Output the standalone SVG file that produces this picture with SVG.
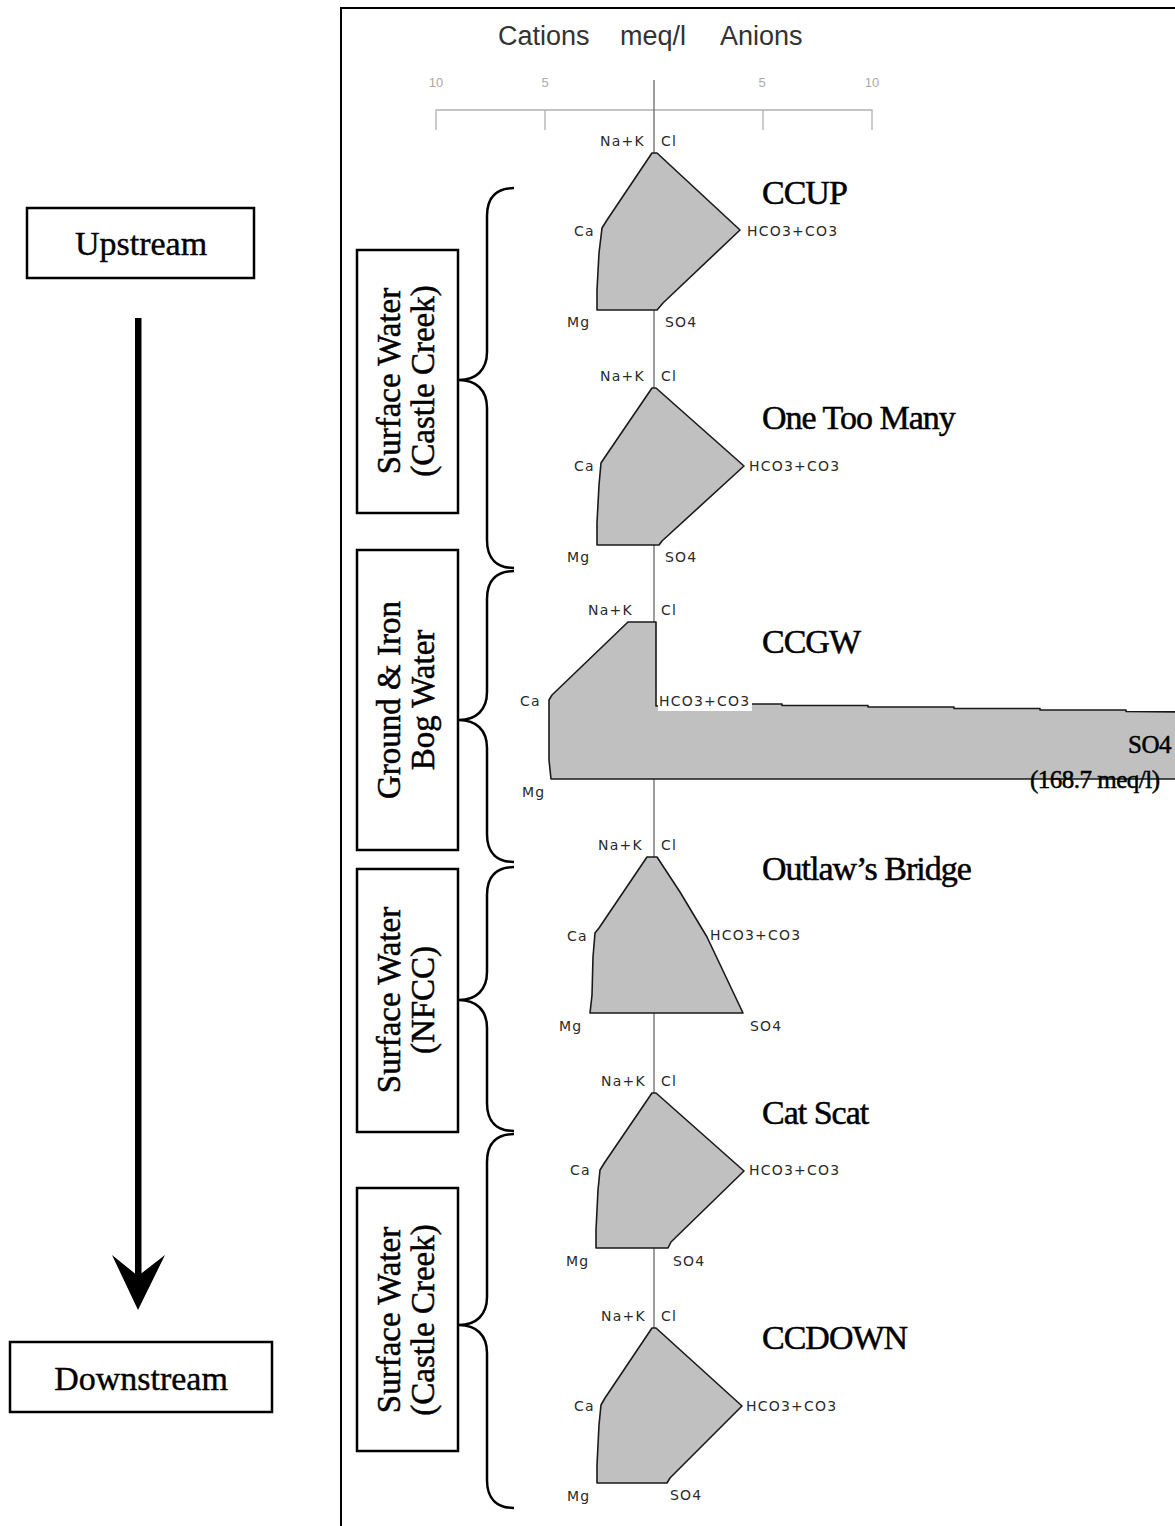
<svg xmlns="http://www.w3.org/2000/svg" width="1175" height="1526" viewBox="0 0 1175 1526">
<style>
.frame{fill:none;stroke:#000;stroke-width:2}
.box{fill:#fff;stroke:#000;stroke-width:2.5}
.brace{fill:none;stroke:#000;stroke-width:2.5}
.axis{fill:none;stroke:#6a6a6a;stroke-width:1.3}
.scale{fill:none;stroke:#b0b0b0;stroke-width:1.3}
.poly{fill:#c0c0c0;stroke:#1a1a1a;stroke-width:1.6;stroke-linejoin:round}
.lab{font-family:"DejaVu Sans",sans-serif;font-size:14px;letter-spacing:1.2px;fill:#2a2a2a}
.num{font-family:"Liberation Sans",sans-serif;font-size:13px;fill:#aaa;text-anchor:middle}
.title{font-family:"Liberation Sans",sans-serif;font-size:27px;fill:#333}
.name{font-family:"Liberation Serif",serif;font-size:34px;letter-spacing:-1px;fill:#000;stroke:#000;stroke-width:0.5}
.big{font-family:"Liberation Serif",serif;font-size:34px;fill:#000;text-anchor:middle;stroke:#000;stroke-width:0.4}
.rot{font-family:"Liberation Serif",serif;font-size:33px;fill:#000;text-anchor:middle;stroke:#000;stroke-width:0.5}
.so4{font-family:"Liberation Serif",serif;font-size:25px;letter-spacing:-0.5px;fill:#000;stroke:#000;stroke-width:0.5}
</style>
<rect width="1175" height="1526" fill="#fff"/>

<g id="frame">
<path class="frame" d="M341 1526 V8 H1176"/>
</g>

<g id="upstream">
<rect class="box" x="27" y="208" width="227" height="70"/>
<text class="big" x="141" y="255">Upstream</text>
</g>
<g id="downstream">
<rect class="box" x="10" y="1342" width="262" height="70"/>
<text class="big" x="141" y="1390">Downstream</text>
</g>

<g id="connectors">
<rect x="135" y="318" width="6.5" height="960" fill="#000"/>
<polygon points="138,1310 112,1255 138,1276 165,1255" fill="#000"/>
<path class="brace" d="M 514 188 C 498 188 487 196 487 216 L 487 352 C 487 370 476 380 459 380 C 476 380 487 390 487 408 L 487 540 C 487 560 498 568 514 568"/>
<path class="brace" d="M 514 571 C 498 571 487 579 487 599 L 487 692 C 487 710 476 720 459 720 C 476 720 487 730 487 748 L 487 834 C 487 854 498 862 514 862"/>
<path class="brace" d="M 514 867 C 498 867 487 875 487 895 L 487 972 C 487 990 476 1000 459 1000 C 476 1000 487 1010 487 1028 L 487 1103 C 487 1123 498 1131 514 1131"/>
<path class="brace" d="M 514 1134 C 498 1134 487 1142 487 1162 L 487 1297 C 487 1315 476 1325 459 1325 C 476 1325 487 1335 487 1353 L 487 1480 C 487 1500 498 1508 514 1508"/>
</g>

<g id="group-sw-cc-1">
<rect class="box" x="357" y="250" width="101" height="263"/>
<text class="rot" transform="translate(400,381) rotate(-90)">Surface Water</text>
<text class="rot" transform="translate(434,381) rotate(-90)">(Castle Creek)</text>
</g>
<g id="group-ground">
<rect class="box" x="357" y="550" width="101" height="300"/>
<text class="rot" transform="translate(400,700) rotate(-90)">Ground &amp; Iron</text>
<text class="rot" transform="translate(434,700) rotate(-90)">Bog Water</text>
</g>
<g id="group-nfcc">
<rect class="box" x="357" y="869" width="101" height="263"/>
<text class="rot" transform="translate(400,1000) rotate(-90)">Surface Water</text>
<text class="rot" transform="translate(434,1000) rotate(-90)">(NFCC)</text>
</g>
<g id="group-sw-cc-2">
<rect class="box" x="357" y="1188" width="101" height="263"/>
<text class="rot" transform="translate(400,1320) rotate(-90)">Surface Water</text>
<text class="rot" transform="translate(434,1320) rotate(-90)">(Castle Creek)</text>
</g>

<g id="axis">
<text class="title" x="498" y="45">Cations</text>
<text class="title" x="620" y="45">meq/l</text>
<text class="title" x="720" y="45">Anions</text>
<text class="num" x="436" y="87">10</text>
<text class="num" x="545" y="87">5</text>
<text class="num" x="762" y="87">5</text>
<text class="num" x="872" y="87">10</text>
<path class="scale" d="M436 130 V110 H872 V130 M545 110 V130 M763 110 V130"/>
<path class="axis" d="M654 80 V1328"/>
</g>

<g id="ccup">
<polygon class="poly" points="652,153 657,153 740,230 663,303 657,310 597,310 597,290 599,253 602,228 607,220"/>
<text class="lab" x="600" y="146">Na+K</text>
<text class="lab" x="661" y="146">Cl</text>
<text class="lab" x="574" y="236">Ca</text>
<text class="lab" x="747" y="236">HCO3+CO3</text>
<text class="lab" x="567" y="327">Mg</text>
<text class="lab" x="665" y="327">SO4</text>
<text class="name" x="762" y="204">CCUP</text>
</g>

<g id="one-too-many">
<polygon class="poly" points="652,388 656,388 744,466 662,541 659,545 597,545 597,523 599,485 601,463 605,457"/>
<text class="lab" x="600" y="381">Na+K</text>
<text class="lab" x="661" y="381">Cl</text>
<text class="lab" x="574" y="471">Ca</text>
<text class="lab" x="749" y="471">HCO3+CO3</text>
<text class="lab" x="567" y="562">Mg</text>
<text class="lab" x="665" y="562">SO4</text>
<text class="name" x="762" y="429">One Too Many</text>
</g>

<g id="ccgw">
<polygon class="poly" points="628,622 656,622 656,706 752,704 782,704 782,705.5 868,705.5 868,707 954,707 954,708.5 1040,708.5 1040,710 1126,710 1126,711.5 1190,712 1190,779 551,779 549,760 549,700 552,695"/>
<rect x="658" y="693" width="94" height="18" fill="#fff"/>
<text class="lab" x="588" y="615">Na+K</text>
<text class="lab" x="661" y="615">Cl</text>
<text class="lab" x="520" y="706">Ca</text>
<text class="lab" x="659" y="706">HCO3+CO3</text>
<text class="lab" x="522" y="797">Mg</text>
<text class="name" x="762" y="653">CCGW</text>
<text class="so4" x="1128" y="753">SO4</text>
<text class="so4" x="1030" y="788">(168.7 meq/l)</text>
</g>

<g id="outlaws-bridge">
<polygon class="poly" points="647,857 657,857 680,892 707,937 743,1013 590,1013 592,995 593,957 595,933 599,928"/>
<text class="lab" x="598" y="850">Na+K</text>
<text class="lab" x="661" y="850">Cl</text>
<text class="lab" x="567" y="941">Ca</text>
<text class="lab" x="710" y="940">HCO3+CO3</text>
<text class="lab" x="559" y="1031">Mg</text>
<text class="lab" x="750" y="1031">SO4</text>
<text class="name" x="762" y="880">Outlaw’s Bridge</text>
</g>

<g id="cat-scat">
<polygon class="poly" points="652,1093 656,1093 744,1171 671,1242 668,1248 596,1248 596,1230 598,1190 600,1170 605,1162"/>
<text class="lab" x="601" y="1086">Na+K</text>
<text class="lab" x="661" y="1086">Cl</text>
<text class="lab" x="570" y="1175">Ca</text>
<text class="lab" x="749" y="1175">HCO3+CO3</text>
<text class="lab" x="566" y="1266">Mg</text>
<text class="lab" x="673" y="1266">SO4</text>
<text class="name" x="762" y="1124">Cat Scat</text>
</g>

<g id="ccdown">
<polygon class="poly" points="652,1328 656,1328 742,1406 670,1478 667,1483 597,1483 597,1465 599,1425 601,1405 605,1398"/>
<text class="lab" x="601" y="1321">Na+K</text>
<text class="lab" x="661" y="1321">Cl</text>
<text class="lab" x="574" y="1411">Ca</text>
<text class="lab" x="746" y="1411">HCO3+CO3</text>
<text class="lab" x="567" y="1501">Mg</text>
<text class="lab" x="670" y="1500">SO4</text>
<text class="name" x="762" y="1349">CCDOWN</text>
</g>
</svg>
